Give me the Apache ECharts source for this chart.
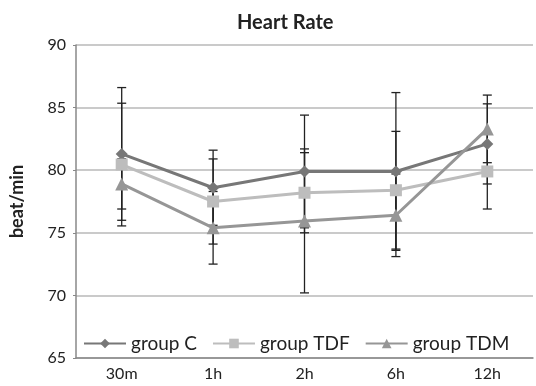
<!DOCTYPE html>
<html>
<head>
<meta charset="utf-8">
<script src="https://cdn.jsdelivr.net/npm/echarts@6/dist/echarts.min.js"></script>
<style>
  html, body { margin: 0; padding: 0; background: #fff; }
  #chart { width: 536px; height: 386px; }
</style>
</head>
<body>
<div id="chart"></div>
<script>
// categories and values
const times = ['30m', '1h', '2h', '6h', '12h']
const groupC = [81.3, 78.6, 79.9, 79.9, 82.1]
const groupTDF = [80.45, 77.5, 78.2, 78.4, 79.9]
const groupTDM = [78.9, 75.4, 75.95, 76.4, 83.3]
// standard deviations (symmetric error bars)
const sdC = [5.3, 3.0, 4.5, 6.3, 3.2]
const sdTDF = [4.9, 3.4, 3.2, 4.7, 3.0]
const sdTDM = [2.0, 2.9, 5.75, 3.3, 2.7]

const font = 'Lato, "Open Sans", sans-serif'

function errorData(vals, sd) {
  return vals.map((v, i) => [i, v - sd[i], v + sd[i]])
}

function errorSeries(vals, sd) {
  return {
    type: 'custom',
    z: 1,
    silent: true,
    data: errorData(vals, sd),
    encode: {x: 0, y: [1, 2]},
    renderItem: function (params, api) {
      const x = api.value(0)
      const lo = api.coord([x, api.value(1)])
      const hi = api.coord([x, api.value(2)])
      const w = 4.5
      const style = {stroke: '#222', lineWidth: 1.3}
      return {
        type: 'group',
        children: [
          {type: 'line', shape: {x1: lo[0], y1: lo[1], x2: hi[0], y2: hi[1]}, style: style},
          {type: 'line', shape: {x1: lo[0] - w, y1: lo[1], x2: lo[0] + w, y2: lo[1]}, style: style},
          {type: 'line', shape: {x1: hi[0] - w, y1: hi[1], x2: hi[0] + w, y2: hi[1]}, style: style}
        ]
      }
    }
  }
}

function lineSeries(name, vals, color, symbol, size) {
  return {
    name: name,
    type: 'line',
    z: 3,
    data: vals,
    symbol: symbol,
    symbolSize: size,
    lineStyle: {color: color, width: 3},
    itemStyle: {color: color},
    emphasis: {disabled: true}
  }
}

const chart = echarts.init(document.getElementById('chart'))
chart.setOption({
  animation: false,
  textStyle: {fontFamily: font},
  title: {
    text: 'Heart Rate',
    left: 232,
    top: 8,
    textStyle: {fontFamily: font, fontSize: 20, fontWeight: 'bold', color: '#222'}
  },
  legend: {
    data: ['group C', 'group TDF', 'group TDM'],
    left: 78,
    top: 329,
    itemWidth: 42,
    itemHeight: 12,
    itemGap: 15,
    textStyle: {fontFamily: font, fontSize: 19, color: '#222'}
  },
  grid: {left: 73, right: 3, top: 45, bottom: 28},
  xAxis: {
    type: 'category',
    data: times,
    axisLine: {lineStyle: {color: '#888', width: 1.5}},
    axisTick: {show: false},
    axisLabel: {fontFamily: font, fontSize: 16, color: '#222', margin: 8}
  },
  yAxis: {
    type: 'value',
    min: 65,
    max: 90,
    interval: 5,
    name: 'beat/min',
    nameLocation: 'middle',
    nameGap: 50,
    nameTextStyle: {fontFamily: font, fontSize: 18, fontWeight: 'bold', color: '#222'},
    axisLine: {show: true, lineStyle: {color: '#888', width: 1.5}},
    axisTick: {show: true, length: 3, lineStyle: {color: '#888'}},
    axisLabel: {fontFamily: font, fontSize: 16, color: '#222', margin: 10},
    splitLine: {lineStyle: {color: '#b8b8b8', width: 1.5}}
  },
  series: [
    errorSeries(groupC, sdC),
    errorSeries(groupTDF, sdTDF),
    errorSeries(groupTDM, sdTDM),
    lineSeries('group C', groupC, '#777777', 'diamond', 12),
    lineSeries('group TDF', groupTDF, '#bdbdbd', 'rect', 12),
    lineSeries('group TDM', groupTDM, '#969696', 'triangle', 13)
  ]
})
</script>
</body>
</html>
